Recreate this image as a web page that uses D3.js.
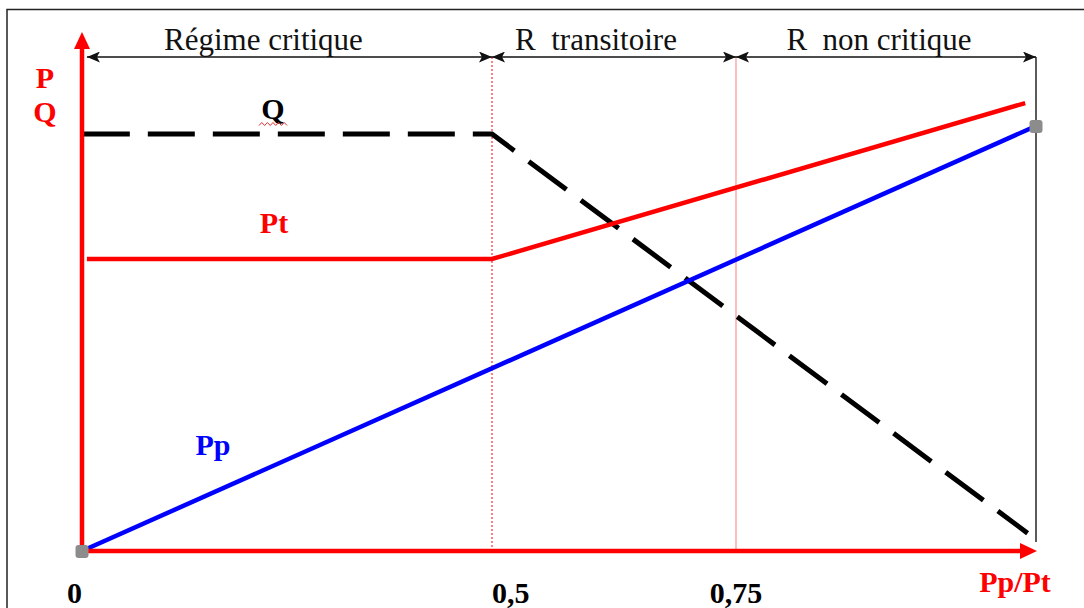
<!DOCTYPE html>
<html lang="fr">
<head>
    <meta charset="UTF-8">
    <script src="https://d3js.org/d3.v7.min.js"></script>
    <style>
        html, body { margin: 0; padding: 0; background: #fff; overflow: hidden; }
        svg { display: block; }
    </style>
    <title>Régimes Pp/Pt</title>
</head>
<body>
    <div id="chart-container"></div>
    <script>
        // x positions of the regime limits (Pp/Pt)
        const xBreaks = [0, 0.5, 0.75, 1];
        const xTickValues = [0, 0.5, 0.75];
        const xTickLabels = ["0", "0,5", "0,75"];

        // regimes shown on top with double arrows
        const regimes = [
            { name: "Régime critique", from: 0.006, to: 0.5 },
            { name: "R\u00a0 transitoire", from: 0.5, to: 0.75 },
            { name: "R\u00a0 non critique", from: 0.75, to: 1 }
        ];

        // curves (x = Pp/Pt, y = relative P or Q)
        const ppValues = [[0, 0], [1, 1]];
        const ptValues = [[0.006, 0.687], [0.5, 0.687], [0.991, 1.054]];
        const qValues = [[0.001, 0.981], [0.5, 0.981], [0.993, 0.042]];

        const w = 1084, h = 608;
        const serif = "'Liberation Serif', 'Times New Roman', 'DejaVu Serif', serif";

        const svg = d3.select("#chart-container")
            .append("svg")
            .attr("width", w)
            .attr("height", h);

        // schematic axis: the regime limits are not evenly spaced
        const xScale = d3.scaleLinear()
            .domain(xBreaks)
            .range([82, 492, 736, 1036]);

        const yScale = d3.scaleLinear()
            .domain([0, 1])
            .range([551, 126]);

        const y0 = yScale(0);
        const topY = 57;

        // outer frame
        svg.append("rect")
            .attr("x", 7)
            .attr("y", 9.5)
            .attr("width", w + 20)
            .attr("height", h + 20)
            .attr("fill", "none")
            .attr("stroke", "#222")
            .attr("stroke-width", 1.5);

        // arrow markers for the regime arrows
        const defs = svg.append("defs");
        defs.append("marker")
            .attr("id", "head")
            .attr("viewBox", "0 0 13 11")
            .attr("refX", 13)
            .attr("refY", 5.5)
            .attr("markerWidth", 13)
            .attr("markerHeight", 11)
            .attr("markerUnits", "userSpaceOnUse")
            .attr("orient", "auto-start-reverse")
            .append("path")
            .attr("d", "M0,0 L13,5.5 L0,11 L3,5.5 Z")
            .attr("fill", "#111");

        // vertical limit lines
        svg.append("line")
            .attr("x1", xScale(0.5)).attr("x2", xScale(0.5))
            .attr("y1", topY).attr("y2", y0)
            .attr("stroke", "#ff3030")
            .attr("stroke-width", 1.2)
            .attr("stroke-dasharray", "2,2");

        svg.append("line")
            .attr("x1", xScale(0.75)).attr("x2", xScale(0.75))
            .attr("y1", topY).attr("y2", y0)
            .attr("stroke", "#ff9c9c")
            .attr("stroke-width", 1.3);

        svg.append("line")
            .attr("x1", xScale(1)).attr("x2", xScale(1))
            .attr("y1", topY).attr("y2", y0 - 9)
            .attr("stroke", "#333")
            .attr("stroke-width", 1.6);

        // regime arrows + names
        const regimeDx = [-26, -18, -7];
        regimes.forEach((r, i) => {
            svg.append("line")
                .attr("x1", xScale(r.from)).attr("x2", xScale(r.to))
                .attr("y1", topY).attr("y2", topY)
                .attr("stroke", "#111")
                .attr("stroke-width", 1.6)
                .attr("marker-start", "url(#head)")
                .attr("marker-end", "url(#head)");

            svg.append("text")
                .attr("x", (xScale(r.from) + xScale(r.to)) / 2 + regimeDx[i])
                .attr("y", 50)
                .attr("text-anchor", "middle")
                .attr("font-family", serif)
                .attr("font-size", "31px")
                .attr("fill", "#111")
                .text(r.name);
        });

        const line = d3.line()
            .x(d => xScale(d[0]))
            .y(d => yScale(d[1]));

        // Q dashed
        svg.append("path")
            .datum(qValues)
            .attr("fill", "none")
            .attr("stroke", "#000")
            .attr("stroke-width", 5)
            .attr("stroke-dasharray", "47,18")
            .attr("d", line);

        // Pt
        svg.append("path")
            .datum(ptValues)
            .attr("fill", "none")
            .attr("stroke", "#ff0000")
            .attr("stroke-width", 4.5)
            .attr("d", line);

        // Pp
        svg.append("path")
            .datum(ppValues)
            .attr("fill", "none")
            .attr("stroke", "#0000ff")
            .attr("stroke-width", 4.5)
            .attr("d", line);

        // axes (red arrows)
        const axisColor = "#ff0000";
        svg.append("line")
            .attr("x1", xScale(0)).attr("x2", xScale(0))
            .attr("y1", y0).attr("y2", 46)
            .attr("stroke", axisColor)
            .attr("stroke-width", 4.5);
        svg.append("path")
            .attr("d", `M${xScale(0)},32 L${xScale(0) + 8},49 L${xScale(0) - 8},49 Z`)
            .attr("fill", axisColor);

        svg.append("line")
            .attr("x1", xScale(0)).attr("x2", xScale(1) - 14)
            .attr("y1", y0).attr("y2", y0)
            .attr("stroke", axisColor)
            .attr("stroke-width", 4.5);
        svg.append("path")
            .attr("d", `M${xScale(1) + 1},${y0} L${xScale(1) - 16},${y0 - 8} L${xScale(1) - 16},${y0 + 8} Z`)
            .attr("fill", axisColor);

        // grey end points
        svg.selectAll("rect.pt")
            .data([ppValues[0], ppValues[ppValues.length - 1]])
            .enter()
            .append("rect")
            .attr("class", "pt")
            .attr("x", d => xScale(d[0]) - 6.5)
            .attr("y", d => yScale(d[1]) - 6)
            .attr("width", 13)
            .attr("height", 13)
            .attr("rx", 3)
            .attr("fill", "#8c8c8c");

        // tick labels
        const tickAnchor = ["end", "start", "middle"];
        svg.selectAll("text.tick")
            .data(xTickValues)
            .enter()
            .append("text")
            .attr("class", "tick")
            .attr("x", d => xScale(d))
            .attr("y", 603)
            .attr("text-anchor", (d, i) => tickAnchor[i])
            .attr("font-family", serif)
            .attr("font-size", "30px")
            .attr("font-weight", "bold")
            .attr("fill", "#000")
            .text((d, i) => xTickLabels[i]);

        // axis titles and curve names
        const bold = (x, y, txt, color) => svg.append("text")
            .attr("x", x).attr("y", y)
            .attr("text-anchor", "middle")
            .attr("font-family", serif)
            .attr("font-size", "30px")
            .attr("font-weight", "bold")
            .attr("fill", color)
            .text(txt);

        bold(45, 88, "P", "#ff0000");
        bold(45, 122, "Q", "#ff0000");
        bold(1015, 592, "Pp/Pt", "#ff0000");
        bold(273, 119, "Q", "#000");
        bold(274, 233, "Pt", "#ff0000");
        bold(213, 455, "Pp", "#0000ff");

        // little red spell-check squiggle under the Q label
        const sq = d3.range(0, 11).map(i => [259 + i * 2.8, 124 + (i % 2 ? -1.5 : 1.5)]);
        svg.append("path")
            .attr("d", d3.line()(sq))
            .attr("fill", "none")
            .attr("stroke", "#e03030")
            .attr("stroke-width", 1);
    </script>
</body>
</html>
